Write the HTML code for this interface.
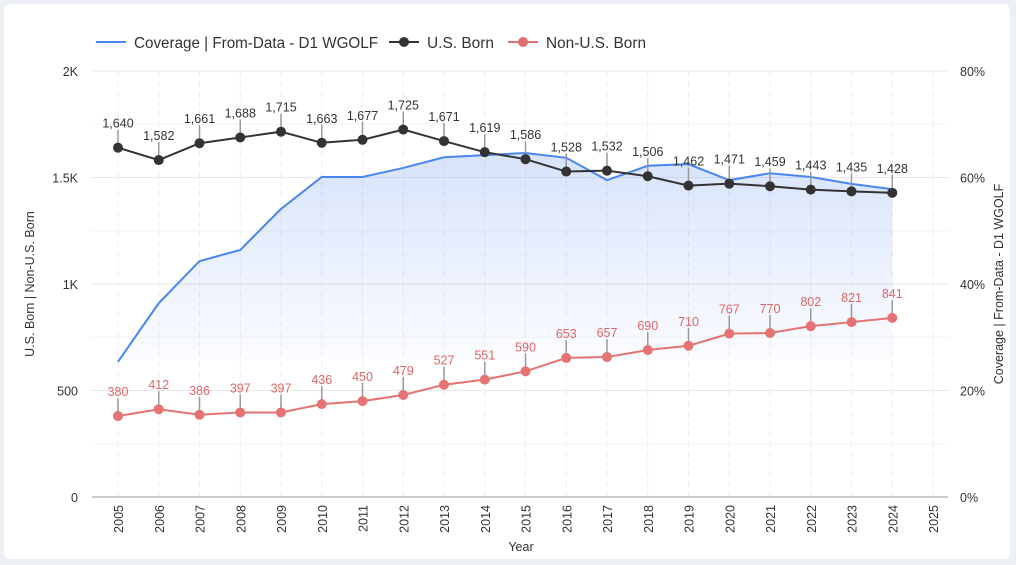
<!DOCTYPE html>
<html><head><meta charset="utf-8"><style>
body{margin:0;background:#eceff3;width:1016px;height:565px;overflow:hidden;font-family:"Liberation Sans",sans-serif}
#card{position:absolute;left:4px;top:4px;width:1006px;height:555px;background:#fff;border-radius:6px}
svg{position:absolute;left:0;top:0}
</style></head><body>
<div id="card"></div>
<svg id="chart" width="1016" height="565">
<defs><linearGradient id="fillg" x1="0" y1="0" x2="0" y2="1"><stop offset="0" stop-color="#4a80f0" stop-opacity="0.22"/><stop offset="1" stop-color="#4a80f0" stop-opacity="0.02"/></linearGradient></defs>
<g id="legend" font-size="15.5" fill="#333">
<g><line x1="96" y1="42" x2="126" y2="42" stroke="#4a86f0" stroke-width="2"/><text x="134" y="48" textLength="244" lengthAdjust="spacingAndGlyphs">Coverage | From-Data - D1 WGOLF</text></g>
<g><line x1="389" y1="42" x2="419" y2="42" stroke="#333" stroke-width="2"/><circle cx="404" cy="42" r="5" fill="#333"/><text x="427" y="48" textLength="67" lengthAdjust="spacingAndGlyphs">U.S. Born</text></g>
<g><line x1="508" y1="42" x2="538" y2="42" stroke="#e07070" stroke-width="2"/><circle cx="523" cy="42" r="5" fill="#e07070"/><text x="546" y="48" textLength="100" lengthAdjust="spacingAndGlyphs">Non-U.S. Born</text></g>
</g>
<g id="grid"></g><g id="area"></g><g id="marks"></g><g id="axes"></g>
</svg>
<script>
const years=[2005,2006,2007,2008,2009,2010,2011,2012,2013,2014,2015,2016,2017,2018,2019,2020,2021,2022,2023,2024];
const xTicks=[2005,2006,2007,2008,2009,2010,2011,2012,2013,2014,2015,2016,2017,2018,2019,2020,2021,2022,2023,2024,2025];
const usBorn=[1640,1582,1661,1688,1715,1663,1677,1725,1671,1619,1586,1528,1532,1506,1462,1471,1459,1443,1435,1428];
const nonUsBorn=[380,412,386,397,397,436,450,479,527,551,590,653,657,690,710,767,770,802,821,841];
const coverage=[25.4,36.4,44.3,46.4,54.1,60.1,60.1,61.8,63.8,64.2,64.6,63.7,59.5,62.2,62.5,59.5,60.8,60.1,58.8,57.8];
const leftTicks=[0,500,1000,1500,2000];
const leftTickLabels=["0","500","1K","1.5K","2K"];
const rightTicks=[0,20,40,60,80];
const NS="http://www.w3.org/2000/svg";
const X=y=>118+(y-2005)*40.75;
const YL=v=>497-v/2000*426;
const YR=p=>497-p/80*426;
function mk(tag,attrs,parent,text){const e=document.createElementNS(NS,tag);for(const k in attrs)e.setAttribute(k,attrs[k]);if(text!==undefined)e.textContent=text;parent.appendChild(e);return e;}
const grid=document.getElementById('grid'),area=document.getElementById('area'),marks=document.getElementById('marks'),axes=document.getElementById('axes');
for(let v=250;v<=2000;v+=250){const l=mk('line',{x1:92,x2:948,y1:YL(v),y2:YL(v),stroke:v%500?'#f3f3f3':'#e8e8e8','stroke-width':1},grid);

}
xTicks.forEach(y=>{const l=mk('line',{x1:X(y),x2:X(y),y1:71,y2:497,stroke:'#ececec','stroke-dasharray':'6 4'},grid);

});
let pts=years.map((y,i)=>X(y)+','+YR(coverage[i])).join(' ');
const ar=mk('polygon',{points:pts+' '+X(2024)+',360 '+X(2005)+',360',fill:'url(#fillg)'},area);


const cl=mk('polyline',{points:pts,fill:'none',stroke:'#4a86f0','stroke-width':2},area);


function series(vals,color,name){
 const p=mk('polyline',{points:years.map((y,i)=>X(y)+','+YL(vals[i])).join(' '),fill:'none',stroke:color,'stroke-width':2},marks);
 
 
 years.forEach((y,i)=>{const cx=X(y),cy=YL(vals[i]);
  const ld=mk('line',{x1:cx,x2:cx,y1:cy-3,y2:cy-18,stroke:'#999','stroke-width':1.5},marks);
  
  
  const c=mk('circle',{cx:cx,cy:cy,r:5,fill:color},marks);
  
  
  const t=mk('text',{x:cx,y:cy-20,'text-anchor':'middle','font-size':12.5,fill:color==='#333'?'#333':'#e06666'},marks,vals[i].toLocaleString('en-US'));
  
  });
}
series(usBorn,'#333','us-born');
series(nonUsBorn,'#e57373','non-us-born');
const ax=mk('line',{x1:92,x2:948,y1:497,y2:497,stroke:'#bbb','stroke-width':1.5},axes);


leftTicks.forEach((v,i)=>{const t=mk('text',{x:78,y:YL(v)+5,'text-anchor':'end','font-size':12.5,fill:'#333'},axes,leftTickLabels[i]);

});
rightTicks.forEach(v=>{const t=mk('text',{x:960,y:YR(v)+5,'font-size':12.5,fill:'#333'},axes,v+'%');

});
xTicks.forEach(y=>{const t=mk('text',{transform:`translate(${X(y)+5},505) rotate(-90)`,'text-anchor':'end','font-size':12.5,fill:'#333'},axes,y);

});
let t=mk('text',{x:521,y:551,'text-anchor':'middle','font-size':12.5,fill:'#333'},axes,'Year');


t=mk('text',{transform:'translate(34,284) rotate(-90)','text-anchor':'middle','font-size':12.5,fill:'#333'},axes,'U.S. Born | Non-U.S. Born');


t=mk('text',{transform:'translate(1003,284) rotate(-90)','text-anchor':'middle','font-size':12.5,fill:'#333'},axes,'Coverage | From-Data - D1 WGOLF');


</script>
</body></html>
